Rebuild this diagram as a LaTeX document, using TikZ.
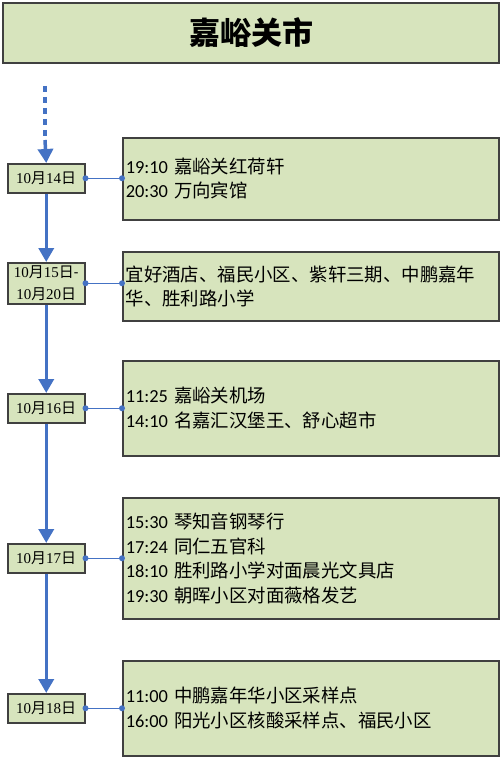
\documentclass[tikz,border=0pt]{standalone}
\usepackage{fontspec}
\setmainfont{Carlito}
\newfontfamily\cjk{Noto Sans CJK SC}
\newfontfamily\serifnum{Liberation Serif}
\usetikzlibrary{arrows.meta}
\definecolor{boxfill}{HTML}{D7E4BD}
\definecolor{boxline}{HTML}{404040}
\definecolor{flow}{HTML}{4472C4}
\newcommand\cn[1]{{\cjk #1}}
\newcommand\dt[2]{{\serifnum #1}{\cjk 月}{\serifnum #2}{\cjk 日}}
\tikzset{
  titlebox/.style={draw=boxline, line width=2pt, fill=boxfill, anchor=north west,
    minimum width=496pt, minimum height=60pt, inner sep=0pt,
    font=\fontsize{31}{36}\selectfont\cjk\bfseries},
  datebox/.style={draw=boxline, line width=1.5pt, fill=boxfill, anchor=north west,
    minimum width=77pt, minimum height=29pt, inner sep=1pt, align=center,
    font=\fontsize{15}{22}\selectfont},
  detailbox/.style={draw=boxline, line width=1.5pt, fill=boxfill, anchor=north west,
    text width=370pt, inner xsep=3pt, inner ysep=2pt, align=left,
    font=\fontsize{18.4}{24.5}\selectfont},
  flowarrow/.style={draw=flow, line width=3.5pt, -{Triangle[width=15pt,length=14pt]}},
  flowdash/.style={draw=flow, line width=3.5pt, dash pattern=on 6pt off 5pt},
  conn/.style={draw=flow, line width=1.5pt},
  dot/.style={fill=flow}
}
\begin{document}
\begin{tikzpicture}[x=1pt,y=-1pt]
\useasboundingbox[fill=white] (0,0) rectangle (500,757);
\node[titlebox] (title) at (2,2) {嘉峪关市};

\node[datebox] (d1) at (7,163) {\dt{10}{14}};
\node[datebox, minimum height=41pt] (d2) at (7,262) {\dt{10}{15}-\\\dt{10}{20}};
\node[datebox] (d3) at (7,393) {\dt{10}{16}};
\node[datebox] (d4) at (7,543) {\dt{10}{17}};
\node[datebox] (d5) at (7,693) {\dt{10}{18}};

\node[detailbox, minimum height=82pt] (b1) at (122,137)
  {19:10 \cn{嘉峪关红荷轩}\\20:30 \cn{万向宾馆}};
\node[detailbox, minimum height=69pt] (b2) at (122,251)
  {\cn{宜好酒店、福民小区、紫轩三期、中鹏嘉年}\\\cn{华、胜利路小学}};
\node[detailbox, minimum height=95pt] (b3) at (122,360)
  {11:25 \cn{嘉峪关机场}\\14:10 \cn{名嘉汇汉堡王、舒心超市}};
\node[detailbox, minimum height=121pt] (b4) at (122,497)
  {15:30 \cn{琴知音钢琴行}\\17:24 \cn{同仁五官科}\\18:10 \cn{胜利路小学对面晨光文具店}\\19:30 \cn{朝晖小区对面薇格发艺}};
\node[detailbox, minimum height=95pt] (b5) at (122,660)
  {11:00 \cn{中鹏嘉年华小区采样点}\\16:00 \cn{阳光小区核酸采样点、福民小区}};

\coordinate (s) at (45,86);
\coordinate (m) at (45,140);
\draw[flowdash] (s) -- (m);
\draw[flowarrow] (m) -- (d1.north);
\draw[flowarrow] (d1.south) -- (d2.north);
\draw[flowarrow] (d2.south) -- (d3.north);
\draw[flowarrow] (d3.south) -- (d4.north);
\draw[flowarrow] (d4.south) -- (d5.north);

\foreach \i in {1,...,5}{
  \draw[conn] (d\i.east) -- (d\i.east -| b\i.west);
  \fill[dot] (d\i.east) circle (3pt);
  \fill[dot] (d\i.east -| b\i.west) circle (3pt);
}
\end{tikzpicture}
\end{document}
